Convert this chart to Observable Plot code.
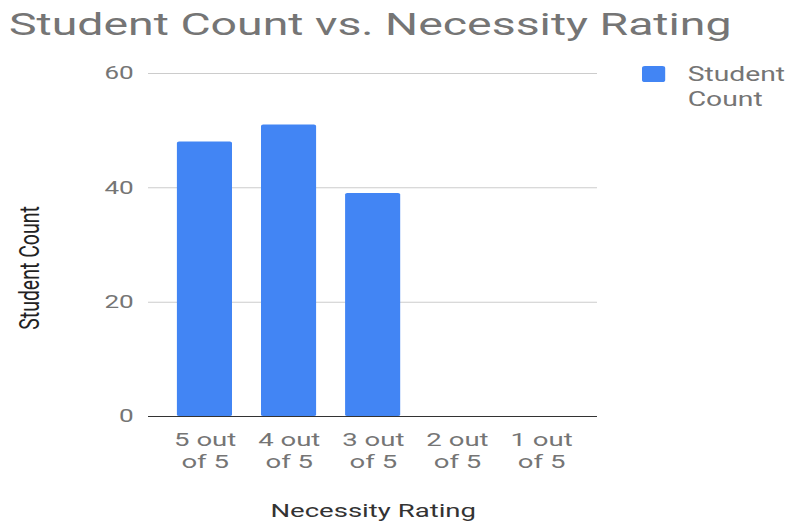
<!DOCTYPE html>
<html>
<head>
<meta charset="utf-8">
<script src="https://cdn.jsdelivr.net/npm/d3@7"></script>
<script src="https://cdn.jsdelivr.net/npm/@observablehq/plot@0.6"></script>
<style>
  html, body { margin: 0; padding: 0; background: #fff; }
  #wrap { position: relative; width: 788px; height: 523px; overflow: hidden; font-family: Roboto, "Noto Sans", sans-serif; }
  #title { position: absolute; left: 9px; top: 5px; font-size: 32px; color: #757575; white-space: nowrap; transform-origin: 0 0; }
  #chart { position: absolute; left: 0; top: 50px; }
  #chart svg { transform-origin: 0 0; display: block; }
  #legend { position: absolute; left: 642px; top: 66px; display: flex; align-items: flex-start; transform-origin: 0 0; }
  #legend .sw { width: 16px; height: 16px; border-radius: 2px; background: #4285f4; margin-right: 15.5px; }
  #legend .lb { font-size: 19.5px; line-height: 25px; color: #757575; margin-top: -4px; white-space: nowrap; }
</style>
</head>
<body>
<div id="wrap">
  <div id="title"></div>
  <div id="chart"></div>
  <div id="legend"><div class="sw"></div><div class="lb"></div></div>
</div>
<script>
const titleText = "Student Count vs. Necessity Rating";
const categories = ["5 out of 5", "4 out of 5", "3 out of 5", "2 out of 5", "1 out of 5"];
const studentCounts = [48, 51, 39, 0, 0];
const yTicks = [0, 20, 40, 60];
const xLabel = "Necessity Rating";
const yLabel = "Student Count";
const seriesName = ["Student", "Count"];
const barColor = "#4285f4";

// the whole chart is laid out narrow and widened horizontally
const stretch = 1.45;
const fullWidth = 788;

const titleEl = document.getElementById("title");
titleEl.textContent = titleText;
titleEl.style.transform = `scaleX(${stretch})`;
const legendEl = document.getElementById("legend");
legendEl.querySelector(".lb").innerHTML = seriesName.join("<br>");
legendEl.style.transform = `scaleX(${stretch})`;

const rows = categories.map((c, i) => ({rating: c, count: studentCounts[i]}));

const chart = Plot.plot({
  width: fullWidth / stretch,
  height: 473,
  marginTop: 23,
  marginBottom: 107,
  marginLeft: 148 / stretch,
  marginRight: 191 / stretch,
  style: {fontFamily: "Roboto, 'Noto Sans', sans-serif", background: "#fff", overflow: "visible"},
  x: {domain: categories, padding: 0.34, paddingOuter: 0.33, label: null},
  y: {domain: [0, 60], ticks: yTicks, label: null},
  marks: [
    Plot.gridY(yTicks.filter(t => t > 0), {stroke: "#cccccc", strokeOpacity: 1, strokeWidth: 1}),
    Plot.barY(rows, {x: "rating", y: "count", fill: barColor, rx: 1.5}),
    Plot.ruleY([0], {stroke: "#333333", strokeWidth: 1}),
    Plot.axisY(yTicks, {tickSize: 0, tickPadding: 15 / stretch, fontSize: 18, fill: "#757575", label: null}),
    Plot.axisX({
      tickSize: 0, tickPadding: 14, fontSize: 19, fill: "#757575", lineHeight: 1.16, label: null,
      tickFormat: d => d.replace(" of", "\nof")
    }),
    Plot.text([xLabel], {frameAnchor: "bottom", dy: 101, fontSize: 19, fill: "#333333"}),
    Plot.text([yLabel], {
      frameAnchor: "left", textAnchor: "middle", dx: -(148 - 29) / stretch, dy: 23,
      rotate: -90, fontSize: 19.5, fill: "#222222"
    })
  ]
});
chart.style.transform = `scaleX(${stretch})`;
document.getElementById("chart").appendChild(chart);
</script>
</body>
</html>
